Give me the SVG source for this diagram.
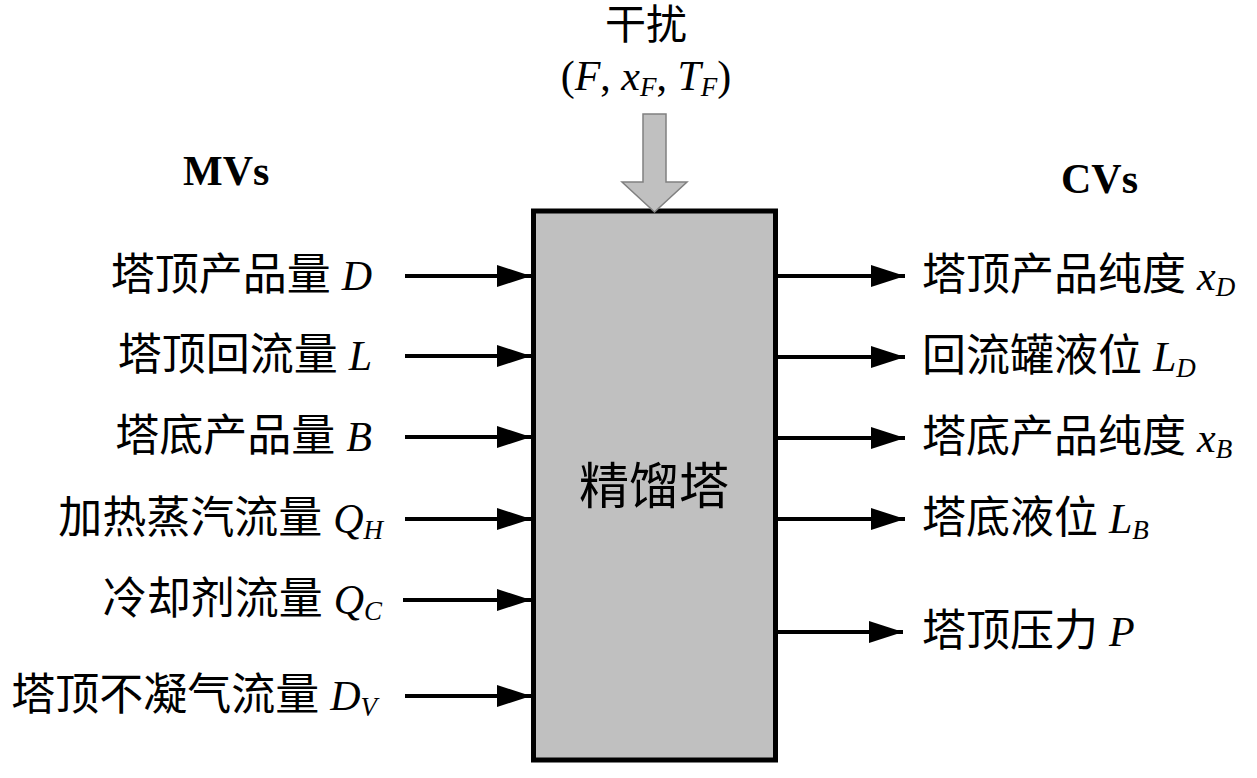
<svg xmlns="http://www.w3.org/2000/svg" width="1257" height="778" viewBox="0 0 1257 778">
<style>
.lbl{font-family:"Liberation Serif","Noto Sans CJK SC",serif;font-size:44px;fill:#000}
.it{font-style:italic;font-size:42px}
.sub{font-size:27px;font-style:italic}
.hd{font-family:"Liberation Serif",serif;font-size:42px;font-weight:bold;fill:#000}
.ar{stroke:#000;stroke-width:4;fill:none;marker-end:url(#ah)}
</style>
<defs>
<marker id="ah" markerUnits="userSpaceOnUse" markerWidth="36" markerHeight="24" refX="34" refY="11" orient="auto">
<path d="M0,0 L34,11 L0,22 Z" fill="#000"/>
</marker>
</defs>
<rect width="1257" height="778" fill="#fff"/>

<g id="column">
<rect x="533.5" y="211" width="242" height="549" fill="#c0c0c0" stroke="#000" stroke-width="5"/>
<text class="lbl" x="654" y="504" text-anchor="middle" style="font-size:50px">精馏塔</text>
</g>

<g id="disturbance">
<text class="lbl" x="646" y="39" text-anchor="middle" style="font-size:41px">干扰</text>
<text class="lbl" x="646" y="90" text-anchor="middle" style="font-size:42px">(<tspan class="it">F</tspan>, <tspan class="it">x</tspan><tspan class="sub" dy="6">F</tspan><tspan dy="-6">, </tspan><tspan class="it">T</tspan><tspan class="sub" dy="6">F</tspan><tspan dy="-6">)</tspan></text>
<polygon points="643,114 666,114 666,182 687,182 654.5,212 622,182 643,182" fill="#c0c0c0" stroke="#808080" stroke-width="1.5"/>
</g>

<g id="mvs-header"><text class="hd" x="183" y="185">MVs</text></g>
<g id="cvs-header"><text class="hd" x="1061" y="193">CVs</text></g>

<g id="mv1"><text class="lbl" x="372" y="290" text-anchor="end">塔顶产品量 <tspan class="it">D</tspan></text></g>
<g id="mv2"><text class="lbl" x="372" y="370" text-anchor="end">塔顶回流量 <tspan class="it">L</tspan></text></g>
<g id="mv3"><text class="lbl" x="372" y="451" text-anchor="end">塔底产品量 <tspan class="it">B</tspan></text></g>
<g id="mv4"><text class="lbl" x="383" y="533" text-anchor="end">加热蒸汽流量 <tspan class="it">Q</tspan><tspan class="sub" dy="6">H</tspan></text></g>
<g id="mv5"><text class="lbl" x="382" y="614" text-anchor="end">冷却剂流量 <tspan class="it">Q</tspan><tspan class="sub" dy="6">C</tspan></text></g>
<g id="mv6"><text class="lbl" x="377" y="710" text-anchor="end">塔顶不凝气流量 <tspan class="it">D</tspan><tspan class="sub" dy="6">V</tspan></text></g>

<g id="cv1"><text class="lbl" x="922" y="290">塔顶产品纯度 <tspan class="it">x</tspan><tspan class="sub" dy="6">D</tspan></text></g>
<g id="cv2"><text class="lbl" x="922" y="371">回流罐液位 <tspan class="it">L</tspan><tspan class="sub" dy="6">D</tspan></text></g>
<g id="cv3"><text class="lbl" x="922" y="452">塔底产品纯度 <tspan class="it">x</tspan><tspan class="sub" dy="6">B</tspan></text></g>
<g id="cv4"><text class="lbl" x="922" y="533">塔底液位 <tspan class="it">L</tspan><tspan class="sub" dy="6">B</tspan></text></g>
<g id="cv5"><text class="lbl" x="922" y="646">塔顶压力 <tspan class="it">P</tspan></text></g>

<g id="connectors">
<line class="ar" x1="405" y1="276" x2="531" y2="276"/>
<line class="ar" x1="405" y1="356" x2="531" y2="356"/>
<line class="ar" x1="405" y1="437" x2="531" y2="437"/>
<line class="ar" x1="405" y1="519" x2="531" y2="519"/>
<line class="ar" x1="403" y1="600" x2="531" y2="600"/>
<line class="ar" x1="405" y1="696" x2="531" y2="696"/>
<line class="ar" x1="777" y1="276" x2="905" y2="276"/>
<line class="ar" x1="777" y1="357" x2="905" y2="357"/>
<line class="ar" x1="777" y1="438" x2="905" y2="438"/>
<line class="ar" x1="777" y1="519" x2="905" y2="519"/>
<line class="ar" x1="777" y1="632" x2="903" y2="632"/>
</g>
</svg>
